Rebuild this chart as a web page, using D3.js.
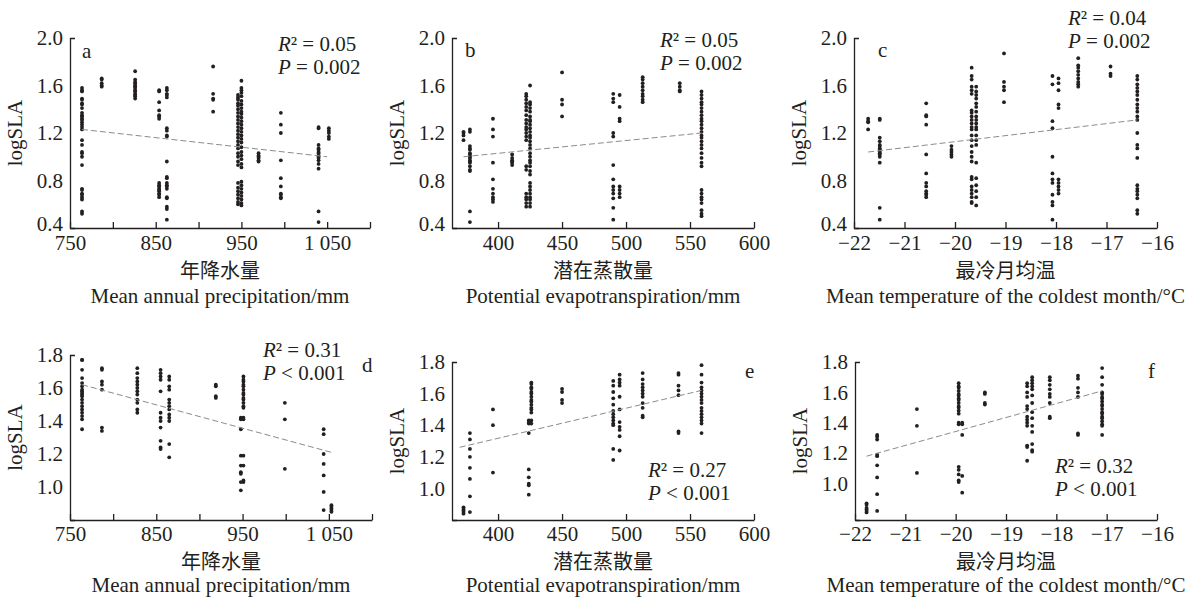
<!DOCTYPE html>
<html>
<head>
<meta charset="utf-8">
<script src="https://cdn.jsdelivr.net/npm/d3@7"></script>
<style>
body { margin: 0; background: #fff; }
svg text { font-family: "Liberation Serif", "Times New Roman", "Noto Sans CJK SC", serif; fill: #231f20; }
.cjk { font-family: "Noto Sans CJK SC", sans-serif !important; }
</style>
</head>
<body>
<svg id="fig" width="1199" height="598"></svg>
<script>

// ---- panel a : precipitation vs logSLA (top row)
var colsA = [764, 787, 826, 854, 863, 917, 946, 950, 970, 996, 1040, 1052];
var slaA = [
  [1.58,1.56,1.55,1.49,1.48,1.45,1.44,1.41,1.37,1.35,1.34,1.32,1.31,1.29,1.27,1.25,1.23,1.14,1.10,1.04,1.03,1.00,0.93,0.73,0.72,0.69,0.68,0.66,0.64,0.54,0.52],
  [1.66,1.65,1.62,1.60,1.59],
  [1.72,1.65,1.63,1.62,1.60,1.59,1.58,1.56,1.55,1.53,1.52,1.51,1.49],
  [1.56,1.55,1.46,1.39,1.35,1.34,1.32,0.78,0.76,0.75,0.73,0.72,0.71,0.69,0.68,0.66],
  [1.58,1.56,1.53,1.52,1.50,1.24,1.22,1.18,1.17,0.96,0.83,0.82,0.78,0.76,0.75,0.73,0.66,0.65,0.58,0.56,0.47],
  [1.76,1.53,1.49,1.48,1.38],
  [1.52,1.50,1.48,1.45,1.43,1.40,1.37,1.34,1.31,1.28,1.25,1.22,1.19,1.16,1.13,1.10,1.07,1.03,1.00,0.96,0.93,0.78,0.74,0.71,0.68,0.65,0.62,0.60],
  [1.64,1.58,1.56,1.54,1.51,1.47,1.44,1.41,1.38,1.36,1.33,1.30,1.27,1.24,1.21,1.18,1.15,1.12,1.08,1.04,1.01,0.98,0.94,0.91,0.79,0.76,0.73,0.70,0.67,0.64,0.61,0.59],
  [1.03,1.01,1.00,0.99,0.97,0.96],
  [1.37,1.27,1.20,0.97,0.82,0.75,0.69,0.68,0.66,0.65],
  [1.25,1.24,1.10,1.07,1.06,1.04,1.03,1.01,1.00,0.99,0.97,0.94,0.90,0.54,0.45],
  [1.24,1.22,1.20,1.17,1.15]
];
var trendA = [[764, 1.23], [1050, 1.00]];

// ---- panel b : PET vs logSLA
var colsB = [373, 378, 396, 411, 422, 425, 450, 490, 495, 513, 542, 559];
var slaB = [
  [1.21,1.20,1.18,1.14],
  [1.23,1.21,1.09,1.07,1.06,1.03,1.02,1.00,0.99,0.97,0.96,0.95,0.92,0.89,0.88,0.54,0.45],
  [1.32,1.23,1.17,0.95,0.81,0.73,0.69,0.66,0.64,0.62],
  [1.02,0.99,0.97,0.96,0.95,0.93],
  [1.53,1.51,1.48,1.45,1.42,1.39,1.35,1.31,1.28,1.25,1.23,1.20,1.17,1.14,0.92,0.89,0.69,0.66,0.64,0.61,0.58],
  [1.60,1.46,1.44,1.41,1.38,1.34,1.31,1.30,1.27,1.24,1.21,1.18,1.16,1.13,1.10,1.07,1.03,1.00,0.97,0.95,0.92,0.88,0.85,0.78,0.75,0.72,0.69,0.66,0.64,0.61,0.58],
  [1.71,1.48,1.44,1.34],
  [1.53,1.49,1.46,1.20,1.17,0.93,0.81,0.75,0.72,0.69,0.65,0.57,0.47],
  [1.52,1.42,1.32,1.30,0.75,0.72,0.69,0.66],
  [1.67,1.65,1.62,1.59,1.56,1.53,1.51,1.48,1.46],
  [1.62,1.59,1.56,1.55],
  [1.55,1.52,1.49,1.46,1.44,1.41,1.38,1.35,1.32,1.30,1.27,1.24,1.21,1.18,1.16,1.13,1.10,1.07,1.03,0.99,0.95,0.92,0.72,0.69,0.66,0.64,0.61,0.55,0.52,0.50]
];
var trendB = [[373, 1.00], [559, 1.20]];

// ---- panel c : coldest month temperature vs logSLA
var colsC = [-21.72, -21.49, -20.57, -20.07, -19.67, -19.58, -19.03, -18.07, -17.95, -17.56, -16.92, -16.39];
var slaC = [
  [1.32,1.30,1.29,1.23],
  [1.32,1.31,1.16,1.13,1.10,1.09,1.07,1.06,1.04,1.03,1.02,1.00,0.95,0.57,0.47],
  [1.45,1.35,1.34,1.27,1.02,0.86,0.78,0.75,0.71,0.69,0.68,0.66],
  [1.09,1.06,1.04,1.02,1.00],
  [1.75,1.68,1.65,1.59,1.56,1.53,1.39,1.37,1.34,1.31,1.28,1.25,1.23,1.18,1.14,1.09,1.04,1.00,0.96,0.83,0.81,0.75,0.72,0.69,0.66,0.62,0.61],
  [1.59,1.55,1.52,1.49,1.45,1.42,1.38,1.34,1.31,1.28,1.25,1.23,1.18,1.14,1.10,0.95,0.82,0.76,0.71,0.66,0.59],
  [1.87,1.63,1.59,1.56,1.46],
  [1.68,1.61,1.30,1.24,1.00,0.86,0.81,0.78,0.68,0.62,0.59,0.47],
  [1.66,1.62,1.56,1.44,1.41,0.81,0.78,0.75,0.72,0.69],
  [1.83,1.77,1.75,1.72,1.69,1.66,1.63,1.61,1.59],
  [1.76,1.70,1.68],
  [1.68,1.65,1.61,1.58,1.55,1.52,1.48,1.44,1.41,1.38,1.34,1.31,1.20,1.10,1.07,0.99,0.76,0.73,0.71,0.68,0.65,0.55,0.52]
];
var trendC = [[-21.72, 1.04], [-16.39, 1.31]];

// ---- panel d : precipitation (bottom row)
var colsD = [764, 787, 828, 855, 865, 919, 948, 951, 999, 1044, 1053];
var slaD = [
  [1.77,1.77,1.71,1.66,1.63,1.61,1.59,1.58,1.57,1.56,1.55,1.53,1.51,1.49,1.47,1.45,1.43,1.41,1.35],
  [1.72,1.71,1.64,1.62,1.59,1.36,1.34],
  [1.72,1.69,1.66,1.64,1.62,1.60,1.58,1.56,1.53,1.51,1.47,1.45],
  [1.71,1.69,1.67,1.65,1.58,1.45,1.42,1.40,1.36,1.28,1.24,1.23],
  [1.67,1.65,1.61,1.59,1.53,1.51,1.49,1.47,1.44,1.42,1.40,1.26,1.18],
  [1.62,1.61,1.55,1.54],
  [1.42,1.41,1.35,1.19,1.13,1.09,1.08,1.03,0.98],
  [1.67,1.65,1.64,1.62,1.61,1.59,1.57,1.56,1.54,1.53,1.51,1.49,1.48,1.42,1.41,1.19,1.13,1.04,1.03],
  [1.51,1.41,1.11],
  [1.35,1.32,1.20,1.14,1.07,0.97,0.86],
  [0.89,0.88,0.87,0.86,0.85]
];
var trendD = [[764, 1.62], [1053, 1.21]];

// ---- panel e : PET (bottom row)
var colsE = [373, 378, 396, 424, 426, 450, 490, 495, 513, 541, 559];
var slaE = [
  [0.88,0.87,0.86,0.85,0.84],
  [1.35,1.31,1.25,1.20,1.13,1.06,0.95,0.85],
  [1.50,1.40,1.10],
  [1.43,1.42,1.41,1.35,1.12,1.07,1.03,1.02,0.96],
  [1.67,1.66,1.64,1.63,1.61,1.60,1.58,1.56,1.55,1.53,1.51,1.50,1.48,1.43,1.41],
  [1.63,1.61,1.56,1.54],
  [1.68,1.65,1.61,1.57,1.53,1.49,1.47,1.45,1.43,1.41,1.40,1.25,1.18],
  [1.72,1.69,1.67,1.65,1.58,1.50,1.42,1.39,1.37,1.33,1.24],
  [1.73,1.69,1.66,1.64,1.62,1.60,1.58,1.54,1.51,1.46,1.45],
  [1.73,1.72,1.65,1.62,1.59,1.36,1.35],
  [1.78,1.72,1.67,1.64,1.62,1.60,1.58,1.56,1.54,1.51,1.49,1.47,1.45,1.43,1.41,1.35]
];
var trendE = [[370, 1.26], [559, 1.62]];

// ---- panel f : coldest month temperature (bottom row)
var colsF = [-21.77, -21.56, -20.77, -19.94, -19.87, -19.42, -18.58, -18.48, -18.13, -17.57, -17.09];
var slaF = [
  [0.87,0.86,0.84,0.83,0.82,0.81],
  [1.32,1.31,1.29,1.19,1.18,1.12,1.04,0.93,0.82],
  [1.49,1.38,1.07],
  [1.66,1.64,1.63,1.61,1.59,1.58,1.56,1.55,1.53,1.51,1.50,1.48,1.46,1.40,1.39,1.11,1.09,1.06,1.02,1.01],
  [1.40,1.39,1.32,1.05,0.94],
  [1.60,1.59,1.53,1.52],
  [1.66,1.64,1.60,1.57,1.51,1.49,1.44,1.42,1.40,1.38,1.25,1.24,1.15],
  [1.70,1.68,1.66,1.64,1.62,1.58,1.53,1.47,1.43,1.38,1.34,1.26,1.22,1.21],
  [1.70,1.68,1.65,1.62,1.59,1.57,1.53,1.44,1.43],
  [1.71,1.69,1.63,1.60,1.57,1.33,1.32],
  [1.76,1.70,1.65,1.60,1.59,1.57,1.56,1.54,1.52,1.51,1.49,1.47,1.46,1.44,1.43,1.41,1.39,1.38,1.32]
];
var trendF = [[-21.77, 1.18], [-17.09, 1.61]];

// axis tick values / labels
var precipTicks = [750, 800, 850, 900, 950, 1000, 1050, 1100];
var precipLabels = [750, 850, 950, 1050];
var petTicks = [400, 450, 500, 550, 600];
var tempTicks = [-22, -21, -20, -19, -18, -17, -16];
var yTicksTop = [0.4, 0.8, 1.2, 1.6, 2.0];
var yTicksBottom = [1.0, 1.2, 1.4, 1.6, 1.8];

var titlesCn = ["年降水量", "潜在蒸散量", "最冷月均温"];
var titlesEn = ["Mean annual precipitation/mm", "Potential evapotranspiration/mm", "Mean temperature of the coldest month/°C"];
var r2 = ["0.05", "0.05", "0.04", "0.31", "0.27", "0.32"];
var pTxt = ["= 0.002", "= 0.002", "= 0.002", "< 0.001", "< 0.001", "< 0.001"];

var ink = "#231f20";
var svg = d3.select("#fig");
var fmtX = d3.formatLocale({decimal: ".", thousands: " ", grouping: [3], currency: ["", ""], minus: "\u2212"}).format(",");

var panels = [
  {k: "a", cols: colsA, vals: slaA, trend: trendA, xd: [750, 1100], xr: [70, 370], yd: [0.4, 2.0], yr: [228, 38],
   xt: precipTicks, xl: precipLabels, yt: yTicksTop, t: 0, lab: [82, 58], st: [278, 51]},
  {k: "b", cols: colsB, vals: slaB, trend: trendB, xd: [364, 600], xr: [452, 754], yd: [0.4, 2.0], yr: [228, 38],
   xt: petTicks, xl: petTicks, yt: yTicksTop, t: 1, lab: [465, 57], st: [660, 47]},
  {k: "c", cols: colsC, vals: slaC, trend: trendC, xd: [-22, -16], xr: [854, 1157], yd: [0.4, 2.0], yr: [228, 38],
   xt: tempTicks, xl: tempTicks, yt: yTicksTop, t: 2, lab: [878, 57], st: [1068, 25]},
  {k: "d", cols: colsD, vals: slaD, trend: trendD, xd: [750, 1100], xr: [70, 372], yd: [0.8, 1.8], yr: [520, 355],
   xt: precipTicks, xl: precipLabels, yt: yTicksBottom, t: 0, lab: [362, 372], st: [263, 357]},
  {k: "e", cols: colsE, vals: slaE, trend: trendE, xd: [364, 600], xr: [452, 754], yd: [0.8, 1.8], yr: [520, 362],
   xt: petTicks, xl: petTicks, yt: yTicksBottom, t: 1, lab: [745, 378], st: [648, 477]},
  {k: "f", cols: colsF, vals: slaF, trend: trendF, xd: [-22, -16], xr: [855, 1157], yd: [0.76, 1.8], yr: [520, 362],
   xt: tempTicks, xl: tempTicks, yt: yTicksBottom, t: 2, lab: [1148, 378], st: [1055, 473]}
];

panels.forEach(function(p, i) {
  var x = d3.scaleLinear().domain(p.xd).range(p.xr);
  var y = d3.scaleLinear().domain(p.yd).range(p.yr);
  var g = svg.append("g").attr("class", "panel-" + p.k);
  var base = p.yr[0];
  var top = i < 3;

  // x axis, ticks point inward
  var gx = g.append("g")
      .attr("transform", "translate(0," + base + ")")
      .call(d3.axisBottom(x).tickValues(p.xt).tickSizeInner(-6).tickSizeOuter(0).tickPadding(top ? 7 : 6)
        .tickFormat(function(d) { return p.xl.indexOf(d) >= 0 ? fmtX(d) : ""; }));

  // y axis, only the outer tick stub at the top
  var gy = g.append("g")
      .attr("transform", "translate(" + p.xr[0] + ",0)")
      .call(d3.axisLeft(y).tickValues(p.yt).tickSizeInner(0).tickSizeOuter(-5).tickPadding(7)
        .tickFormat(d3.format(".1f")));

  [gx, gy].forEach(function(a) {
    a.attr("font-size", 21).attr("font-family", null).style("color", ink);
    a.selectAll("path, line").attr("stroke-width", 1.3);
  });
  // lowest y label sits right on top of the first x label, lift it a bit
  gy.selectAll(".tick text").filter(function(d) { return d === p.yd[0]; }).attr("dy", "0.1em");

  // points
  var pts = [];
  p.cols.forEach(function(c, j) {
    p.vals[j].forEach(function(v) { pts.push([c, v]); });
  });
  g.append("g").selectAll("circle")
    .data(pts)
    .enter().append("circle")
      .attr("cx", function(d) { return x(d[0]); })
      .attr("cy", function(d) { return y(d[1]); })
      .attr("r", 1.9)
      .attr("fill", ink);

  // fitted line
  g.append("line")
      .attr("x1", x(p.trend[0][0])).attr("y1", y(p.trend[0][1]))
      .attr("x2", x(p.trend[1][0])).attr("y2", y(p.trend[1][1]))
      .attr("stroke", "#8c8c8c")
      .attr("stroke-width", 1)
      .attr("stroke-dasharray", "6,3");

  // y title
  g.append("text")
      .attr("transform", "translate(" + (p.xr[0] - 48) + "," + ((p.yr[0] + p.yr[1]) / 2) + ") rotate(-90)")
      .attr("text-anchor", "middle")
      .attr("font-size", 21)
      .text("logSLA");

  // x titles
  var cx = (p.xr[0] + p.xr[1]) / 2;
  g.append("text")
      .attr("class", "cjk")
      .attr("x", cx).attr("y", base + (top ? 50 : 49))
      .attr("text-anchor", "middle")
      .attr("font-size", 20)
      .text(titlesCn[p.t]);
  g.append("text")
      .attr("x", cx).attr("y", base + (top ? 75 : 72))
      .attr("text-anchor", "middle")
      .attr("font-size", 21)
      .text(titlesEn[p.t]);

  // panel letter
  g.append("text")
      .attr("x", p.lab[0]).attr("y", p.lab[1])
      .attr("font-size", 21)
      .text(p.k);

  // stats
  var s1 = g.append("text").attr("x", p.st[0]).attr("y", p.st[1]).attr("font-size", 21);
  s1.append("tspan").attr("font-style", "italic").text("R");
  s1.append("tspan").text("\u00b2 = " + r2[i]);
  var s2 = g.append("text").attr("x", p.st[0]).attr("y", p.st[1] + 23).attr("font-size", 21);
  s2.append("tspan").attr("font-style", "italic").text("P");
  s2.append("tspan").text(" " + pTxt[i]);
});

</script>
</body>
</html>
